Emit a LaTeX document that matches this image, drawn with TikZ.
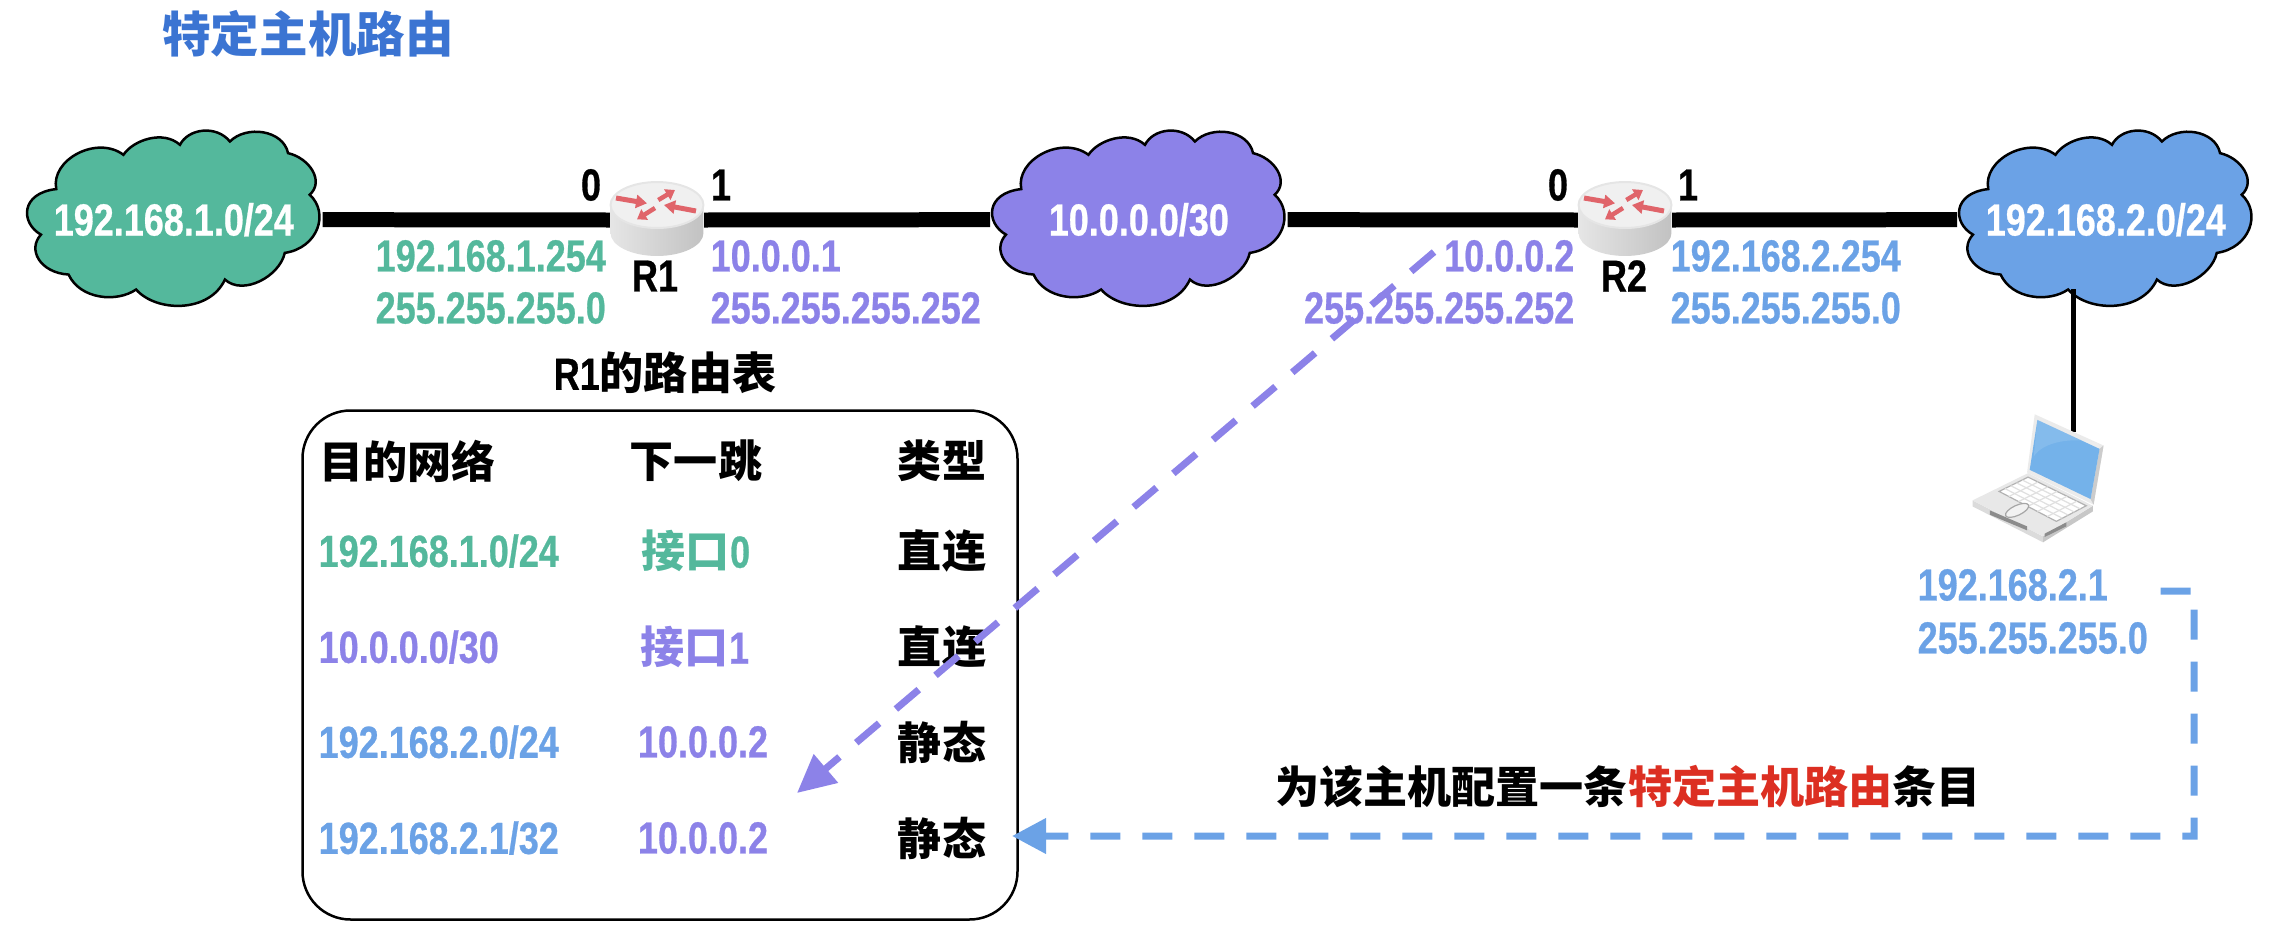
\documentclass[tikz,border=0pt]{standalone}
\usepackage{fontspec}
\setmainfont{Liberation Sans}[FakeStretch=0.8, FakeBold=0.6]
\newfontfamily\cjk{Noto Sans CJK SC}[Scale=0.98]
\usepackage{tikz}
\usetikzlibrary{arrows.meta, calc}
\definecolor{netgreen}{HTML}{54B89C}
\definecolor{netpurple}{HTML}{8C82E8}
\definecolor{netblue}{HTML}{6BA2E6}
\definecolor{titleblue}{HTML}{3B74D2}
\definecolor{hotred}{HTML}{DC2F22}
\definecolor{routerred}{HTML}{E0646A}
\definecolor{screenblue}{HTML}{74B2EA}
\tikzset{
  txt/.style={font=\fontsize{12.8}{14}\selectfont\bfseries, inner sep=0pt},
  cloudtxt/.style={txt, text=white, minimum width=2.96cm, minimum height=1.77cm},
  link/.style={line width=0.15cm},
  hop/.style={line width=0.07cm, dash pattern=on 0.30cm off 0.22cm}
}
% nuage : nom, centre, couleur, texte
\newcommand{\netcloud}[4]{%
  \begin{scope}[shift={(#2)}, x=0.00333cm, y=-0.00333cm, shift={(-522,-352)}]
    \draw[line width=0.025cm, fill=#3] (370,165) .. controls (400,120) and (490,90) .. (540,135)
      .. controls (565,85) and (650,75) .. (690,125)
      .. controls (740,75) and (850,90) .. (865,160)
      .. controls (930,175) and (975,245) .. (930,285)
      .. controls (990,340) and (955,445) .. (855,460)
      .. controls (840,530) and (730,590) .. (675,540)
      .. controls (630,640) and (470,640) .. (408,570)
      .. controls (350,610) and (240,600) .. (205,525)
      .. controls (120,520) and (80,450) .. (122,405)
      .. controls (60,370) and (60,280) .. (168,268)
      .. controls (150,180) and (290,105) .. (370,165) -- cycle;
    \node[cloudtxt] (#1) at (521.5,360) {#4};
    \coordinate (#1-dip) at (408,570);
  \end{scope}}
% routeur : nom, centre
\newcommand{\router}[2]{%
  \node[minimum width=0.93cm, minimum height=0.74cm, inner sep=0pt] (#1) at (#2) {};
  \begin{scope}[shift={(#2)}, x=0.01cm, y=0.01cm]
    \shade[left color=black!10, right color=black!24] (-46.5,15) -- (-46.5,-13)
      arc[start angle=180, end angle=360, x radius=46.5, y radius=23] -- (46.5,15) -- cycle;
    \draw[black!10, line width=0.02cm, fill=black!6] (0,15) ellipse[x radius=46.5, y radius=23];
    \draw[routerred, line width=0.05cm, -{Triangle[length=0.11cm,width=0.13cm]}] (-41,22) -- (-10,16.7);
    \draw[routerred, line width=0.05cm, -{Triangle[length=0.11cm,width=0.13cm]}] (39,9) -- (7,15);
    \draw[routerred, line width=0.045cm, -{Triangle[length=0.09cm,width=0.12cm]}] (1.3,20) -- (18,30);
    \draw[routerred, line width=0.045cm, -{Triangle[length=0.09cm,width=0.12cm]}] (-2,12) -- (-20,0.7);
  \end{scope}}
\begin{document}
\begin{tikzpicture}
  \useasboundingbox (0,0) rectangle (22.88,9.34);
  \node[txt, text=titleblue, font=\fontsize{14.1}{15}\selectfont\bfseries] (title) at (3.08,9.00) {\cjk 特定主机路由};
  % reseaux et routeurs
  \netcloud{net1}{1.74,7.17}{netgreen}{192.168.1.0/24}
  \netcloud{net2}{11.39,7.17}{netpurple}{10.0.0.0/30}
  \netcloud{net3}{21.06,7.17}{netblue}{192.168.2.0/24}
  \router{r1}{6.57,7.14}
  \router{r2}{16.25,7.14}
  \draw[link] (net1.east) -- (r1.west);
  \draw[link] (r1.east) -- (net2.west);
  \draw[link] (net2.east) -- (r2.west);
  \draw[link] (r2.east) -- (net3.west);
  % portable
  \begin{scope}[shift={(19.00,5.54)}, x=0.00333cm, y=-0.00333cm]
    \coordinate (pctop) at (522,155);
    \draw[line width=0.05cm] ($(pctop |- net3-dip)+(0,-0.04)$) -- (pctop);
    \fill[black!14] (218,362) -- (430,470) -- (430,488) -- (218,380) -- cycle;
    \fill[black!22] (430,470) -- (580,378) -- (580,395) -- (430,488) -- cycle;
    \fill[black!9] (218,362) -- (385,280) -- (580,378) -- (430,470) -- cycle;
    \fill[black!45] (270,392) -- (382,440) -- (382,452) -- (270,405) -- cycle;
    \fill[black!45] (435,462) -- (500,428) -- (500,440) -- (435,472) -- cycle;
    \draw[black!30, fill=white, line width=0.012cm] (298,335) coordinate (ka) -- (385,292) coordinate (kb)
      -- (560,378) coordinate (kc) -- (470,425) coordinate (kd) -- cycle;
    \foreach \t in {0.17,0.34,0.5,0.67,0.84}{
      \draw[black!12, line width=0.012cm] ($(ka)!\t!(kd)$) -- ($(kb)!\t!(kc)$);
    }
    \foreach \t in {0.2,0.4,0.6,0.8}{
      \draw[black!12, line width=0.012cm] ($(ka)!\t!(kb)$) -- ($(kd)!\t!(kc)$);
    }
    \draw[black!35, fill=black!5, line width=0.012cm, rotate around={25:(352,392)}] (352,392) ellipse[x radius=38, y radius=15];
    \fill[black!8] (405,103) -- (612,197) -- (582,375) -- (382,278) -- cycle;
    \fill[black!20] (612,197) -- (600,207) -- (573,358) -- (582,375) -- cycle;
    \fill[screenblue] (413,120) -- (600,207) -- (573,358) -- (390,270) -- cycle;
    \fill[white, opacity=0.12] (413,120) -- (600,207) -- (596,190) .. controls (520,170) and (430,185) .. (402,230) -- cycle;
  \end{scope}
  % adresses
  \node[txt, text=black] (r1p0) at (5.91,7.49) {0};
  \node[txt, text=black] (r1p1) at (7.21,7.49) {1};
  \node[txt, text=black] (r2p0) at (15.58,7.49) {0};
  \node[txt, text=black] (r2p1) at (16.88,7.49) {1};
  \node[txt, text=black] (r1name) at (6.55,6.58) {R1};
  \node[txt, text=black] (r2name) at (16.24,6.58) {R2};
  \node[txt, text=netgreen, anchor=west] (r1a) at (3.75,6.78) {192.168.1.254};
  \node[txt, text=netgreen, anchor=west] (r1b) at (3.75,6.26) {255.255.255.0};
  \node[txt, text=netpurple, anchor=west] (r1c) at (7.10,6.78) {10.0.0.1};
  \node[txt, text=netpurple, anchor=west] (r1d) at (7.10,6.26) {255.255.255.252};
  \node[txt, text=netpurple, anchor=east] (r2a) at (15.75,6.78) {10.0.0.2};
  \node[txt, text=netpurple, anchor=east] (r2b) at (15.75,6.26) {255.255.255.252};
  \node[txt, text=netblue, anchor=west] (r2c) at (16.70,6.78) {192.168.2.254};
  \node[txt, text=netblue, anchor=west] (r2d) at (16.70,6.26) {255.255.255.0};
  \node[txt, text=netblue, anchor=west] (pcip) at (19.17,3.49) {192.168.2.1};
  \node[txt, text=netblue, anchor=west] (pcmask) at (19.17,2.96) {255.255.255.0};
  % table de R1
  \node[txt, text=black] (tabtitle) at (6.65,5.61) {R1{\cjk 的路由表}};
  \node[draw, line width=0.025cm, rounded corners=0.48cm, minimum width=7.15cm, minimum height=5.09cm] (tabbox) at (6.60,2.69) {};
  \node[txt, anchor=west] (h1) at (3.19,4.73) {\cjk 目的网络};
  \node[txt] (h2) at (6.96,4.73) {\cjk 下一跳};
  \node[txt] (h3) at (9.42,4.73) {\cjk 类型};
  \node[txt, text=netgreen, anchor=west] (a1) at (3.18,3.83) {192.168.1.0/24};
  \node[txt, text=netgreen] (a2) at (6.96,3.83) {{\cjk 接口}0};
  \node[txt] (a3) at (9.42,3.83) {\cjk 直连};
  \node[txt, text=netpurple, anchor=west] (b1) at (3.18,2.87) {10.0.0.0/30};
  \node[txt, text=netpurple] (b2) at (6.95,2.87) {{\cjk 接口}1};
  \node[txt] (b3) at (9.42,2.87) {\cjk 直连};
  \node[txt, text=netblue, anchor=west] (c1) at (3.18,1.92) {192.168.2.0/24};
  \node[txt, text=netpurple] (c2) at (7.03,1.92) {10.0.0.2};
  \node[txt] (c3) at (9.42,1.92) {\cjk 静态};
  \node[txt, text=netblue, anchor=west] (d1) at (3.18,0.96) {192.168.2.1/32};
  \node[txt, text=netpurple] (d2) at (7.03,0.96) {10.0.0.2};
  \node[txt] (d3) at (9.42,0.96) {\cjk 静态};
  \node[txt] (note) at (16.28,1.48) {\cjk 为该主机配置一条\textcolor{hotred}{特定主机路由}条目};
  % fleches
  \coordinate (from2) at (14.34,6.82);
  \coordinate (to2) at (7.97,1.41);
  \draw[hop, netpurple, -{Triangle[length=0.38cm,width=0.36cm]}] (from2) -- (to2);
  \coordinate (to1) at (10.12,0.98);
  \draw[hop, netblue, -{Triangle[length=0.34cm,width=0.34cm]}] ($(pcip.east)+(0.52,-0.06)$) -- (21.94,3.43) -- (21.94,0.98) -- (to1);
\end{tikzpicture}
\end{document}
